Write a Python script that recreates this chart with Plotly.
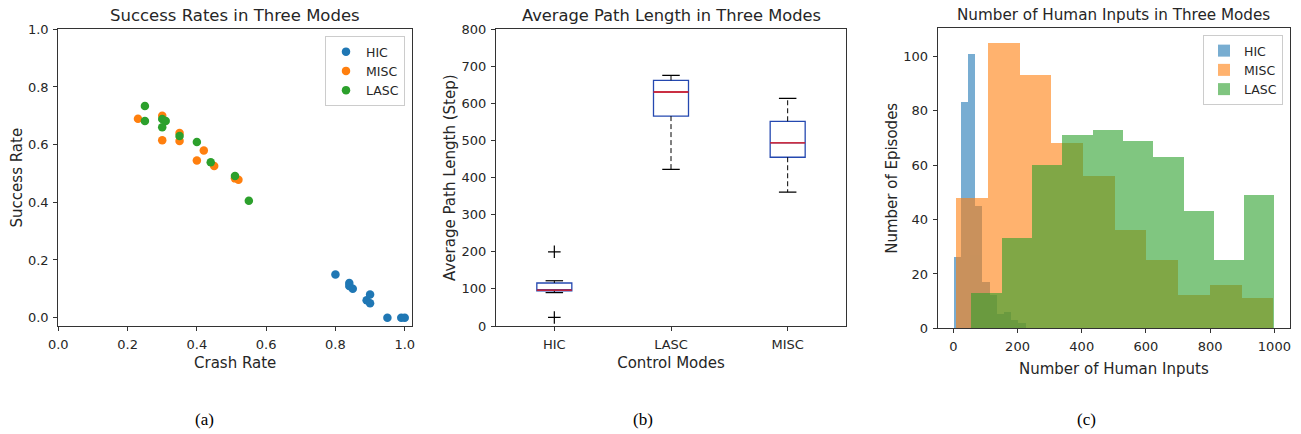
import numpy as np
import plotly.graph_objects as go

# ---------------- data ----------------
# (a) success vs crash rate
hic_crash = [0.80, 0.84, 0.84, 0.85, 0.89, 0.90, 0.90, 0.95, 0.99, 1.00]
hic_success = [0.15, 0.12, 0.11, 0.10, 0.06, 0.08, 0.05, 0.0, 0.0, 0.0]
misc_crash = [0.23, 0.30, 0.30, 0.35, 0.35, 0.42, 0.40, 0.45, 0.51, 0.52]
misc_success = [0.69, 0.70, 0.615, 0.64, 0.613, 0.58, 0.545, 0.526, 0.483, 0.478]
lasc_crash = [0.25, 0.25, 0.30, 0.31, 0.30, 0.35, 0.40, 0.44, 0.51, 0.55]
lasc_success = [0.734, 0.682, 0.689, 0.682, 0.66, 0.63, 0.609, 0.539, 0.491, 0.405]

# (b) path length box stats
box_modes = ["HIC", "LASC", "MISC"]
box_q1 = [95, 566, 455]
box_median = [96.5, 631, 494]
box_q3 = [116, 662.5, 552]
box_low = [90, 422.5, 361]
box_high = [122, 676, 614]
hic_fliers = [200, 23]

# (c) histograms of human inputs
hic_counts = [26, 83, 101, 45, 17, 12, 5, 6, 3, 2]
hic_range = (0, 224)
misc_counts = [48, 105, 93, 68, 56, 36, 25, 12, 16, 11]
misc_range = (8.4, 995.4)
lasc_counts = [13, 33, 60, 71, 73, 69, 63, 43, 25, 49]
lasc_range = (55.2, 999.2)

# ---------------- style ----------------
C_BLUE, C_ORANGE, C_GREEN = "#1f77b4", "#ff7f0e", "#2ca02c"
FONT = "DejaVu Sans"
TXT = "#262626"
SPINE = "#333333"
W, H = 1301, 434

fig = go.Figure()

# (a) scatter
for name, xs, ys, col in [("HIC", hic_crash, hic_success, C_BLUE),
                          ("MISC", misc_crash, misc_success, C_ORANGE),
                          ("LASC", lasc_crash, lasc_success, C_GREEN)]:
    fig.add_trace(go.Scatter(x=xs, y=ys, mode="markers", name=name,
                             marker=dict(color=col, size=8.5, line=dict(width=0)),
                             xaxis="x", yaxis="y", legend="legend"))

# (b) box plot
BOX_BLUE = "#2448b0"
pos = [1, 2, 3]
for i in range(3):
    fig.add_trace(go.Box(x=[pos[i]], q1=[box_q1[i]], median=[box_median[i]], q3=[box_q3[i]],
                         lowerfence=[box_q1[i]], upperfence=[box_q3[i]],
                         width=0.3, whiskerwidth=0, boxpoints=False,
                         line=dict(color=BOX_BLUE, width=1.3),
                         fillcolor="rgba(0,0,0,0)", showlegend=False,
                         xaxis="x2", yaxis="y2", hoverinfo="skip"))
    # dashed whiskers
    fig.add_trace(go.Scatter(x=[pos[i], pos[i], None, pos[i], pos[i]],
                             y=[box_q3[i], box_high[i], None, box_q1[i], box_low[i]],
                             mode="lines", line=dict(color="black", width=1, dash="5px,3px"),
                             showlegend=False, xaxis="x2", yaxis="y2", hoverinfo="skip"))
    # caps
    fig.add_trace(go.Scatter(x=[pos[i] - 0.075, pos[i] + 0.075, None, pos[i] - 0.075, pos[i] + 0.075],
                             y=[box_high[i], box_high[i], None, box_low[i], box_low[i]],
                             mode="lines", line=dict(color="black", width=1.2),
                             showlegend=False, xaxis="x2", yaxis="y2", hoverinfo="skip"))
    # median
    fig.add_trace(go.Scatter(x=[pos[i] - 0.15, pos[i] + 0.15], y=[box_median[i], box_median[i]],
                             mode="lines", line=dict(color="#f01818", width=1.3),
                             showlegend=False, xaxis="x2", yaxis="y2", hoverinfo="skip"))
fig.add_trace(go.Scatter(x=[pos[0]] * len(hic_fliers), y=hic_fliers, mode="markers",
                         marker=dict(symbol="cross-thin", size=9, line=dict(color="black", width=1.2)),
                         showlegend=False, xaxis="x2", yaxis="y2", hoverinfo="skip"))

# (c) histograms
for name, counts, rng, col in [("HIC", hic_counts, hic_range, C_BLUE),
                               ("MISC", misc_counts, misc_range, C_ORANGE),
                               ("LASC", lasc_counts, lasc_range, C_GREEN)]:
    edges = np.linspace(rng[0], rng[1], len(counts) + 1)
    centers = (edges[:-1] + edges[1:]) / 2
    widths = np.diff(edges)
    fig.add_trace(go.Bar(x=centers, y=counts, width=widths, name=name,
                         marker=dict(color=col, line=dict(width=0)), opacity=0.6,
                         xaxis="x3", yaxis="y3", legend="legend2"))

# ---------------- layout ----------------
def px_x(p):
    return p / W

def px_y(p):
    return 1 - p / H

axis_common = dict(showline=True, mirror=True, linecolor=SPINE, linewidth=1.2,
                   ticks="outside", ticklen=4, tickwidth=1, tickcolor=SPINE,
                   showgrid=False, zeroline=False,
                   tickfont=dict(family=FONT, size=13, color=TXT),
                   ticklabelstandoff=2)
title_font = dict(family=FONT, size=15, color=TXT)

fig.update_layout(
    width=W, height=H, margin=dict(l=0, r=0, t=0, b=0),
    template="none", paper_bgcolor="white", plot_bgcolor="white",
    barmode="overlay", bargap=0,
    font=dict(family=FONT, color=TXT),
    xaxis=dict(domain=[px_x(58.3), px_x(412)], range=[0, 1.021], anchor="y",
               tickvals=[0, 0.2, 0.4, 0.6, 0.8, 1.0], tickformat=".1f",
               title=dict(text="Crash Rate", font=title_font, standoff=6), **axis_common),
    yaxis=dict(domain=[px_y(326), px_y(29.3)], range=[-0.029, 1.0], anchor="x",
               tickvals=[0, 0.2, 0.4, 0.6, 0.8, 1.0], tickformat=".1f",
               title=dict(text="Success Rate", font=title_font, standoff=1), **axis_common),
    xaxis2=dict(domain=[px_x(496), px_x(846)], range=[0.5, 3.5], anchor="y2",
                tickvals=pos, ticktext=box_modes,
                title=dict(text="Control Modes", font=title_font, standoff=6), **axis_common),
    yaxis2=dict(domain=[px_y(326), px_y(29.3)], range=[0, 800], anchor="x2",
                tickvals=list(range(0, 801, 100)),
                title=dict(text="Average Path Length (Step)", font=title_font, standoff=2), **axis_common),
    xaxis3=dict(domain=[px_x(937.7), px_x(1290)], range=[-48.6, 1048.6], anchor="y3",
                tickvals=list(range(0, 1001, 200)),
                title=dict(text="Number of Human Inputs", font=title_font, standoff=10), **axis_common),
    yaxis3=dict(domain=[px_y(328.3), px_y(28.3)], range=[0, 110.4], anchor="x3",
                tickvals=list(range(0, 101, 20)),
                title=dict(text="Number of Episodes", font=title_font, standoff=1), **axis_common),
    legend=dict(x=px_x(405), y=px_y(36), xanchor="right", yanchor="top",
                bgcolor="white", bordercolor="#cccccc", borderwidth=1,
                font=dict(family=FONT, size=12.5, color=TXT), tracegroupgap=2),
    legend2=dict(x=px_x(1283), y=px_y(35), xanchor="right", yanchor="top",
                 bgcolor="white", bordercolor="#cccccc", borderwidth=1,
                 font=dict(family=FONT, size=12.5, color=TXT)),
)

titles = [("Success Rates in Three Modes", "x domain", 16.5),
          ("Average Path Length in Three Modes", "x2 domain", 16.3),
          ("Number of Human Inputs in Three Modes", "x3 domain", 15.2)]
for text, xr, fs in titles:
    fig.add_annotation(text=text, xref=xr, x=0.5, yref="paper", y=px_y(15),
                       xanchor="center", yanchor="middle", showarrow=False,
                       font=dict(family=FONT, size=fs, color=TXT))

for text, xc in [("(a)", 204), ("(b)", 643), ("(c)", 1086)]:
    fig.add_annotation(text=text, xref="paper", x=px_x(xc), yref="paper", y=px_y(419),
                       xanchor="center", yanchor="middle", showarrow=False,
                       font=dict(family="Liberation Serif", size=17, color="black"))

fig.write_html("out.html", config={"displayModeBar": False},
               post_script="document.body.style.margin='0px';")
